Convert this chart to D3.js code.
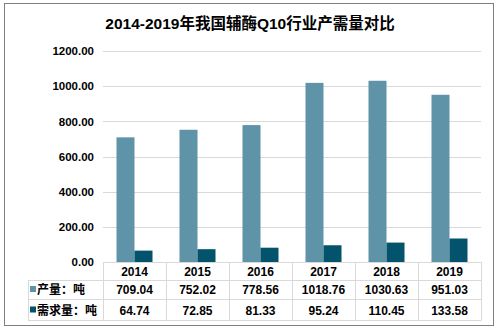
<!DOCTYPE html>
<html><head><meta charset="utf-8">
<script src="https://cdn.jsdelivr.net/npm/d3@7"></script>
<style>body{margin:0;background:#fff}svg{display:block}text{font-family:Arial,"Liberation Sans","Noto Sans CJK SC",sans-serif;font-weight:bold;fill:#000}</style>
</head><body>
<script>
const years = ["2014","2015","2016","2017","2018","2019"];
const production = [709.04, 752.02, 778.56, 1018.76, 1030.63, 951.03];
const demand = [64.74, 72.85, 81.33, 95.24, 110.45, 133.58];
const seriesNames = ["产量：吨", "需求量：吨"];
const seriesColors = ["#5e93a8", "#02536b"];
const yTicks = [0, 200, 400, 600, 800, 1000, 1200];
const title = "2014-2019年我国辅酶Q10行业产需量对比";

(function () {
const W = 499, H = 331;
const svg = d3.select("body").append("svg").attr("width", W).attr("height", H);
svg.append("rect").attr("x", 4.5).attr("y", 3.5).attr("width", 489).attr("height", 322)
  .attr("fill", "#fff").attr("stroke", "#7f7f7f").attr("stroke-width", 1);

svg.append("text").attr("x", 250).attr("y", 29).attr("text-anchor", "middle")
  .style("font-size", "15.5px").text(title);

const mLeft = 103, mRight = 481, mTop = 51, mBottom = 262;
const y = d3.scaleLinear().domain([0, 1200]).range([mBottom, mTop]);
const x = d3.scaleBand().domain(years).range([mLeft, mRight]).padding(0);
const bw = x.bandwidth();
const sub = d3.scaleBand().domain([0, 1]).range([(bw - 36) / 2, (bw + 36) / 2]).padding(0);

svg.append("g").selectAll("line").data(yTicks.filter(d => d > 0)).join("line")
  .attr("x1", mLeft).attr("x2", mRight)
  .attr("y1", d => Math.round(y(d)) + 0.5).attr("y2", d => Math.round(y(d)) + 0.5)
  .attr("stroke", "#d9d9d9");

const yAxis = d3.axisLeft(y).tickValues(yTicks).tickFormat(d3.format(".2f")).tickSize(0).tickPadding(0);
const ga = svg.append("g").attr("transform", `translate(94,0)`).call(yAxis);
ga.select(".domain").remove();
ga.selectAll("text").style("font-size", "11.5px").style("font-family", "Arial, 'Liberation Sans', sans-serif").attr("fill", "#000");

const data = [production, demand];
data.forEach((vals, si) => {
  svg.append("g").selectAll("rect").data(years).join("rect")
    .attr("x", (d) => x(d) + sub(si))
    .attr("width", sub.bandwidth())
    .attr("y", (d, i) => y(vals[i]))
    .attr("height", (d, i) => mBottom - y(vals[i]))
    .attr("fill", seriesColors[si]);
});

const tg = svg.append("g").attr("stroke", "#d9d9d9").attr("fill", "none");
tg.append("line").attr("x1", mLeft).attr("x2", mRight).attr("y1", mBottom + 0.5).attr("y2", mBottom + 0.5);
[280, 299, 320].forEach(r => tg.append("line").attr("x1", 28).attr("x2", mRight).attr("y1", r + 0.5).attr("y2", r + 0.5));
const bounds = years.map(d => x(d)).concat([mRight]);
bounds.forEach(b => tg.append("line").attr("x1", Math.round(b) + 0.5).attr("x2", Math.round(b) + 0.5).attr("y1", mBottom).attr("y2", 320.5));
tg.append("line").attr("x1", 28.5).attr("x2", 28.5).attr("y1", 280).attr("y2", 320.5);

svg.append("g").selectAll("text").data(years).join("text")
  .attr("x", d => x(d) + bw / 2).attr("y", 275.5).attr("text-anchor", "middle")
  .style("font-size", "12px").text(d => d);

const rowY = [294, 314.5];
data.forEach((vals, si) => {
  svg.append("g").selectAll("text").data(vals).join("text")
    .attr("x", (d, i) => x(years[i]) + bw / 2).attr("y", rowY[si]).attr("text-anchor", "middle")
    .style("font-size", "12px").text(d => d.toFixed(2));
  svg.append("rect").attr("x", 30).attr("y", rowY[si] - 8).attr("width", 6).attr("height", 6).attr("fill", seriesColors[si]);
  svg.append("text").attr("x", 37).attr("y", rowY[si]).style("font-size", "12px").text(seriesNames[si]);
});
})();
</script>
</body></html>
